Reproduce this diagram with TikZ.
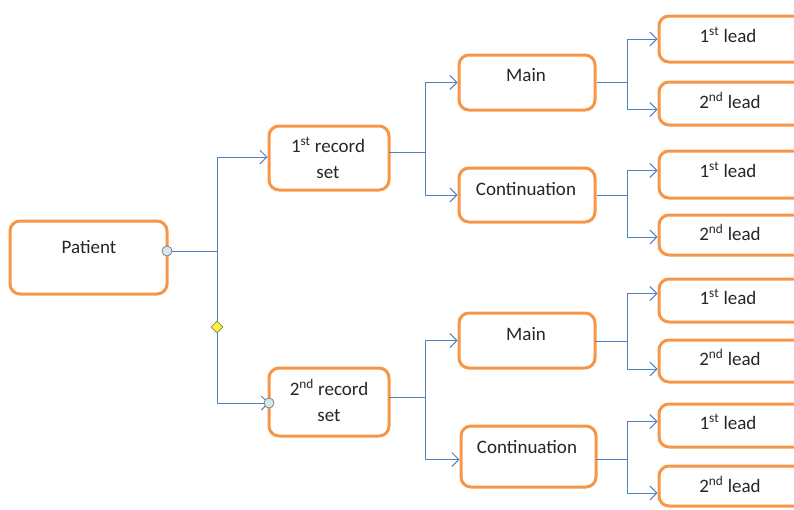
\documentclass[tikz,border=0pt]{standalone}
\usepackage{fontspec}
\setmainfont{Carlito}
\usetikzlibrary{arrows.meta,calc,shapes.geometric}
\definecolor{borange}{HTML}{F79646}
\definecolor{lblue}{HTML}{4F81BD}
\definecolor{hfill}{HTML}{D5E8EE}
\begin{document}
\begin{tikzpicture}[x=1pt,y=-1pt,
  box/.style={draw=borange,line width=3pt,rounded corners=10pt,fill=white,inner sep=0pt},
  txt/.style={font=\fontsize{19}{22}\selectfont,text=black!85,anchor=base,inner sep=0pt},
  conn/.style={draw=lblue,line width=0.9pt},
  arr/.style={conn,-{Straight Barb[length=7pt,width=14pt,line width=0.9pt]}},
  handle/.style={circle,draw=gray,fill=hfill,minimum size=10pt,inner sep=0pt,line width=0.8pt},
  dia/.style={diamond,draw=gray,fill=yellow!80,minimum size=12pt,inner sep=0pt,line width=0.6pt}]
\useasboundingbox (0,0) rectangle (794,509);
% boxes
\node[box,minimum width=157,minimum height=73] (pat) at (88.5,257.5) {};
\node[box,minimum width=120,minimum height=64] (r1) at (329,158) {};
\node[box,minimum width=120,minimum height=68] (r2) at (329,402) {};
\node[box,minimum width=136,minimum height=55] (m1) at (527,82.5) {};
\node[box,minimum width=136,minimum height=54] (c1) at (527,195) {};
\node[box,minimum width=136,minimum height=55] (m2) at (527,340.5) {};
\node[box,minimum width=135,minimum height=61] (c2) at (528.5,456.5) {};
\node[box,minimum width=151,minimum height=46] (l1) at (734.5,39) {};
\node[box,minimum width=151,minimum height=43] (l2) at (734.5,103.5) {};
\node[box,minimum width=151,minimum height=47] (l3) at (734.5,174.5) {};
\node[box,minimum width=151,minimum height=40] (l4) at (734.5,235) {};
\node[box,minimum width=151,minimum height=43] (l5) at (734.5,300.5) {};
\node[box,minimum width=151,minimum height=42] (l6) at (734.5,361) {};
\node[box,minimum width=151,minimum height=43] (l7) at (734.5,425.5) {};
\node[box,minimum width=151,minimum height=40] (l8) at (734.5,486) {};
% texts
\node[txt] (tpat) at (89,253) {Patient};
\node[txt] (tr1a) at (328,152) {1\textsuperscript{st} record};
\node[txt] (tr1b) at (328,178) {set};
\node[txt] (tr2a) at (329,395) {2\textsuperscript{nd} record};
\node[txt] (tr2b) at (329,421) {set};
\node[txt] (tm1) at (526,81) {Main};
\node[txt] (tc1) at (526,195) {Continuation};
\node[txt] (tm2) at (526,340) {Main};
\node[txt] (tc2) at (527,453) {Continuation};
\node[txt] (tl1) at (728,42) {1\textsuperscript{st} lead};
\node[txt] (tl2) at (730,108) {2\textsuperscript{nd} lead};
\node[txt] (tl3) at (728,177) {1\textsuperscript{st} lead};
\node[txt] (tl4) at (730,240) {2\textsuperscript{nd} lead};
\node[txt] (tl5) at (728,304) {1\textsuperscript{st} lead};
\node[txt] (tl6) at (730,365) {2\textsuperscript{nd} lead};
\node[txt] (tl7) at (728,429) {1\textsuperscript{st} lead};
\node[txt] (tl8) at (730,492) {2\textsuperscript{nd} lead};
% connector coordinates
\coordinate (pr) at (167,251);
\coordinate (r2l) at (269,403);
% patient to record sets
\draw[conn] (pr) -- (217,251);
\draw[arr] (217,251) |- ($(r1.west)+(0,-1)$);
\draw[arr] (217,251) |- (r2l);
\node[dia] (dm) at (217,327) {};
\node[handle] (h1) at (pr) {};
\node[handle] (h2) at (r2l) {};
% record sets to main/continuation
\draw[conn] (389,152) coordinate (r1o) -- (425,152) coordinate (j1);
\draw[arr] (j1) |- (m1.west);
\draw[arr] (j1) |- (c1.west);
\draw[conn] (389,397) coordinate (r2o) -- (425,397) coordinate (j2);
\draw[arr] (j2) |- (m2.west);
\draw[arr] (j2) |- ($(c2.west)+(0,3)$);
% main/continuation to leads
\draw[conn] (m1.east) -- (627,82.5) coordinate (j3);
\draw[arr] (j3) |- (l1.west);
\draw[arr] (j3) |- ($(l2.west)+(0,6)$);
\draw[conn] (c1.east) -- (627,195) coordinate (j4);
\draw[arr] (j4) |- ($(l3.west)+(0,-4)$);
\draw[arr] (j4) |- ($(l4.west)+(0,2)$);
\draw[conn] (595,341) -- (627,341) coordinate (j5);
\draw[arr] (j5) |- ($(l5.west)+(0,-7)$);
\draw[arr] (j5) |- ($(l6.west)+(0,8)$);
\draw[conn] (596,459) -- (627,459) coordinate (j6);
\draw[arr] (j6) |- ($(l7.west)+(0,-4)$);
\draw[arr] (j6) |- ($(l8.west)+(0,7)$);
\end{tikzpicture}
\end{document}
